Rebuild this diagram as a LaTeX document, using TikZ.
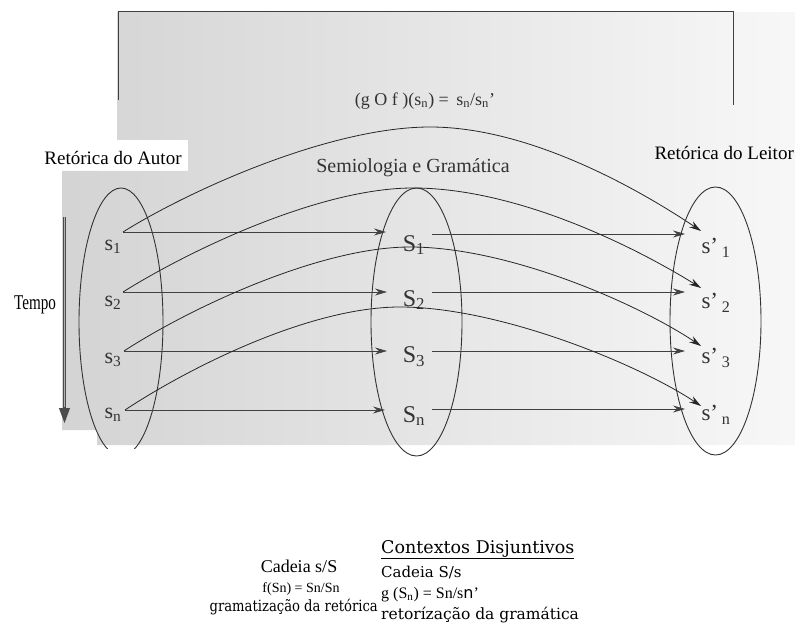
\documentclass[tikz,border=0pt]{standalone}
\usepackage{fontspec}
\setmainfont{Liberation Serif}
\newfontfamily\dvs{DejaVu Serif}
\newfontfamily\dvsans{DejaVu Sans}
\usetikzlibrary{arrows.meta,shapes.geometric}
\begin{document}
\begin{tikzpicture}[x=1pt,y=-1pt,
  ell/.style={draw=black!80, line width=0.9pt, ellipse, minimum width=#1, minimum height=268pt, inner sep=0pt},
  arr/.style={draw=black!75, line width=0.75pt, -{Stealth[length=12pt,width=7pt,inset=4pt]}},
  curv/.style={draw=black!85, line width=0.8pt, -{Stealth[length=12pt,width=7pt,inset=4pt]}},
  lab/.style={font=\fontsize{22}{24}\selectfont, text=black!80, inner sep=0pt},
  mlab/.style={font=\fontsize{24}{26}\selectfont, text=black!80, inner sep=0pt},
  ttl/.style={font=\fontsize{19}{21}\selectfont, inner sep=0pt},
  boxline/.style={draw=black!75, line width=1pt}
]
\useasboundingbox (0,0) rectangle (795,631);
% scanned background
\shade[left color=black!17, right color=black!3]
  (117,12) -- (795,12) -- (795,445) -- (97,445) -- (97,430) -- (62,430)
  -- (62,171) -- (188,171) -- (188,140) -- (117,140) -- cycle;
% top box
\coordinate (bx1) at (118,100);
\coordinate (bx2) at (118,12);
\coordinate (bx3) at (733,12);
\coordinate (bx4) at (733,105);
\draw[boxline] (bx1) -- (bx2) -- (bx3) -- (bx4);
\node[font=\fontsize{18}{20}\selectfont, text=black!80, inner sep=0pt] (form) at (425,101)
  {(g O f )(s\textsubscript{n}) =\, s\textsubscript{n}/s\textsubscript{n}’};

% titles
\node[ttl] (tA) at (113,158) {Retórica do Autor};
\node[ttl, anchor=east] (tL) at (794,153) {Retórica do Leitor};
\node[font=\fontsize{20}{22}\selectfont, text=black!80, inner sep=0pt] (tS) at (413,168) {Semiologia e Gramática};

% ellipses
\begin{scope}
\clip (0,0) rectangle (795,448);
\node[ell=84pt] (E1) at (121,322) {};
\end{scope}
\node[ell=91pt] (E2) at (416.5,322) {};
\node[ell=91pt] (E3) at (715.5,321) {};

% labels
\node[lab] (l1) at (113,247) {s\textsubscript{1}};
\node[lab] (l2) at (113,303) {s\textsubscript{2}};
\node[lab] (l3) at (113,360) {s\textsubscript{3}};
\node[lab] (ln) at (113,415) {s\textsubscript{n}};
\node[mlab] (m1) at (414,245) {S\textsubscript{1}};
\node[mlab] (m2) at (414,300) {S\textsubscript{2}};
\node[mlab] (m3) at (414,357) {S\textsubscript{3}};
\node[mlab] (mn) at (414,416) {S\textsubscript{n}};
\node[lab, font=\fontsize{23}{25}\selectfont] (r1) at (716,248) {s’\,\textsubscript{1}};
\node[lab, font=\fontsize{23}{25}\selectfont] (r2) at (716,303) {s’\,\textsubscript{2}};
\node[lab, font=\fontsize{23}{25}\selectfont] (r3) at (716,358) {s’\,\textsubscript{3}};
\node[lab, font=\fontsize{23}{25}\selectfont] (rn) at (716,415) {s’\,\textsubscript{n}};

% connector points
\coordinate (a1) at (123,232); \coordinate (a2) at (123,292);
\coordinate (a3) at (124,351); \coordinate (an) at (125,410);
\coordinate (b1) at (386,232); \coordinate (b2) at (387,292);
\coordinate (b3) at (387,351); \coordinate (bn) at (385,410);
\coordinate (c1) at (432,234); \coordinate (c2) at (432,292);
\coordinate (c3) at (432,351); \coordinate (cn) at (432,409);
\coordinate (d1) at (685,234); \coordinate (d2) at (685,292);
\coordinate (d3) at (685,351); \coordinate (dn) at (685,409);
\coordinate (e1) at (701,231); \coordinate (e2) at (701,288);
\coordinate (e3) at (701,346); \coordinate (en) at (701,406);

% horizontal arrows
\draw[arr] (a1) -- (b1);
\draw[arr] (a2) -- (b2);
\draw[arr] (a3) -- (b3);
\draw[arr] (an) -- (bn);
\draw[arr] (c1) -- (d1);
\draw[arr] (c2) -- (d2);
\draw[arr] (c3) -- (d3);
\draw[arr] (cn) -- (dn);

% curved arrows
\draw[curv] (a1) .. controls (190,190) and (330,127) .. (430,127)
  .. controls (530,127) and (640,190) .. (e1);
\draw[curv] (a2) .. controls (190,250) and (320,188) .. (413,188)
  .. controls (520,188) and (640,250) .. (e2);
\draw[curv] (a3) .. controls (190,308) and (320,247) .. (410,247)
  .. controls (510,247) and (640,305) .. (e3);
\draw[curv] (an) .. controls (190,367) and (310,307) .. (400,307)
  .. controls (500,307) and (640,365) .. (en);

% Tempo
\coordinate (t1) at (64.5,217);
\coordinate (t2) at (64.5,424);
\draw[line width=3.6pt, draw=black!70, -{Triangle[length=16pt,width=10pt]}] (t1) -- (t2);
\draw[line width=1pt, draw=black!30, shorten >=17pt] (t1) -- (t2);
\node[inner sep=0pt] (tempo) at (35,305) {\fontsize{21}{23}\selectfont\scalebox{0.72}[1]{Tempo}};

% bottom texts
\node[inner sep=0pt, anchor=base west, font=\dvs\fontsize{17.5}{19}\selectfont] (cd) at (381,553) {\underline{Contextos Disjuntivos}};
\node[inner sep=0pt, anchor=base, font=\fontsize{18}{20}\selectfont] (cs1) at (299,572) {Cadeia s/S};
\node[inner sep=0pt, anchor=base, font=\fontsize{14}{16}\selectfont] (f1) at (301,592) {f(Sn) = Sn/Sn};
\node[inner sep=0pt, anchor=base east, font=\dvs\fontsize{15.5}{17}\selectfont] (g1) at (378,611) {\scalebox{0.85}[1]{gramatização da retórica}};
\node[inner sep=0pt, anchor=base west, font=\dvs\fontsize{15}{17}\selectfont] (cs2) at (381,577) {Cadeia S/s};
\node[inner sep=0pt, anchor=base west, font=\fontsize{16}{18}\selectfont] (g2) at (381,598) {g (S\textsubscript{n}) = Sn/s{\dvsans n}'};
\node[inner sep=0pt, anchor=base west, font=\dvs\fontsize{15.5}{17}\selectfont] (r4) at (381,619) {retorízação da gramática};
\end{tikzpicture}
\end{document}
